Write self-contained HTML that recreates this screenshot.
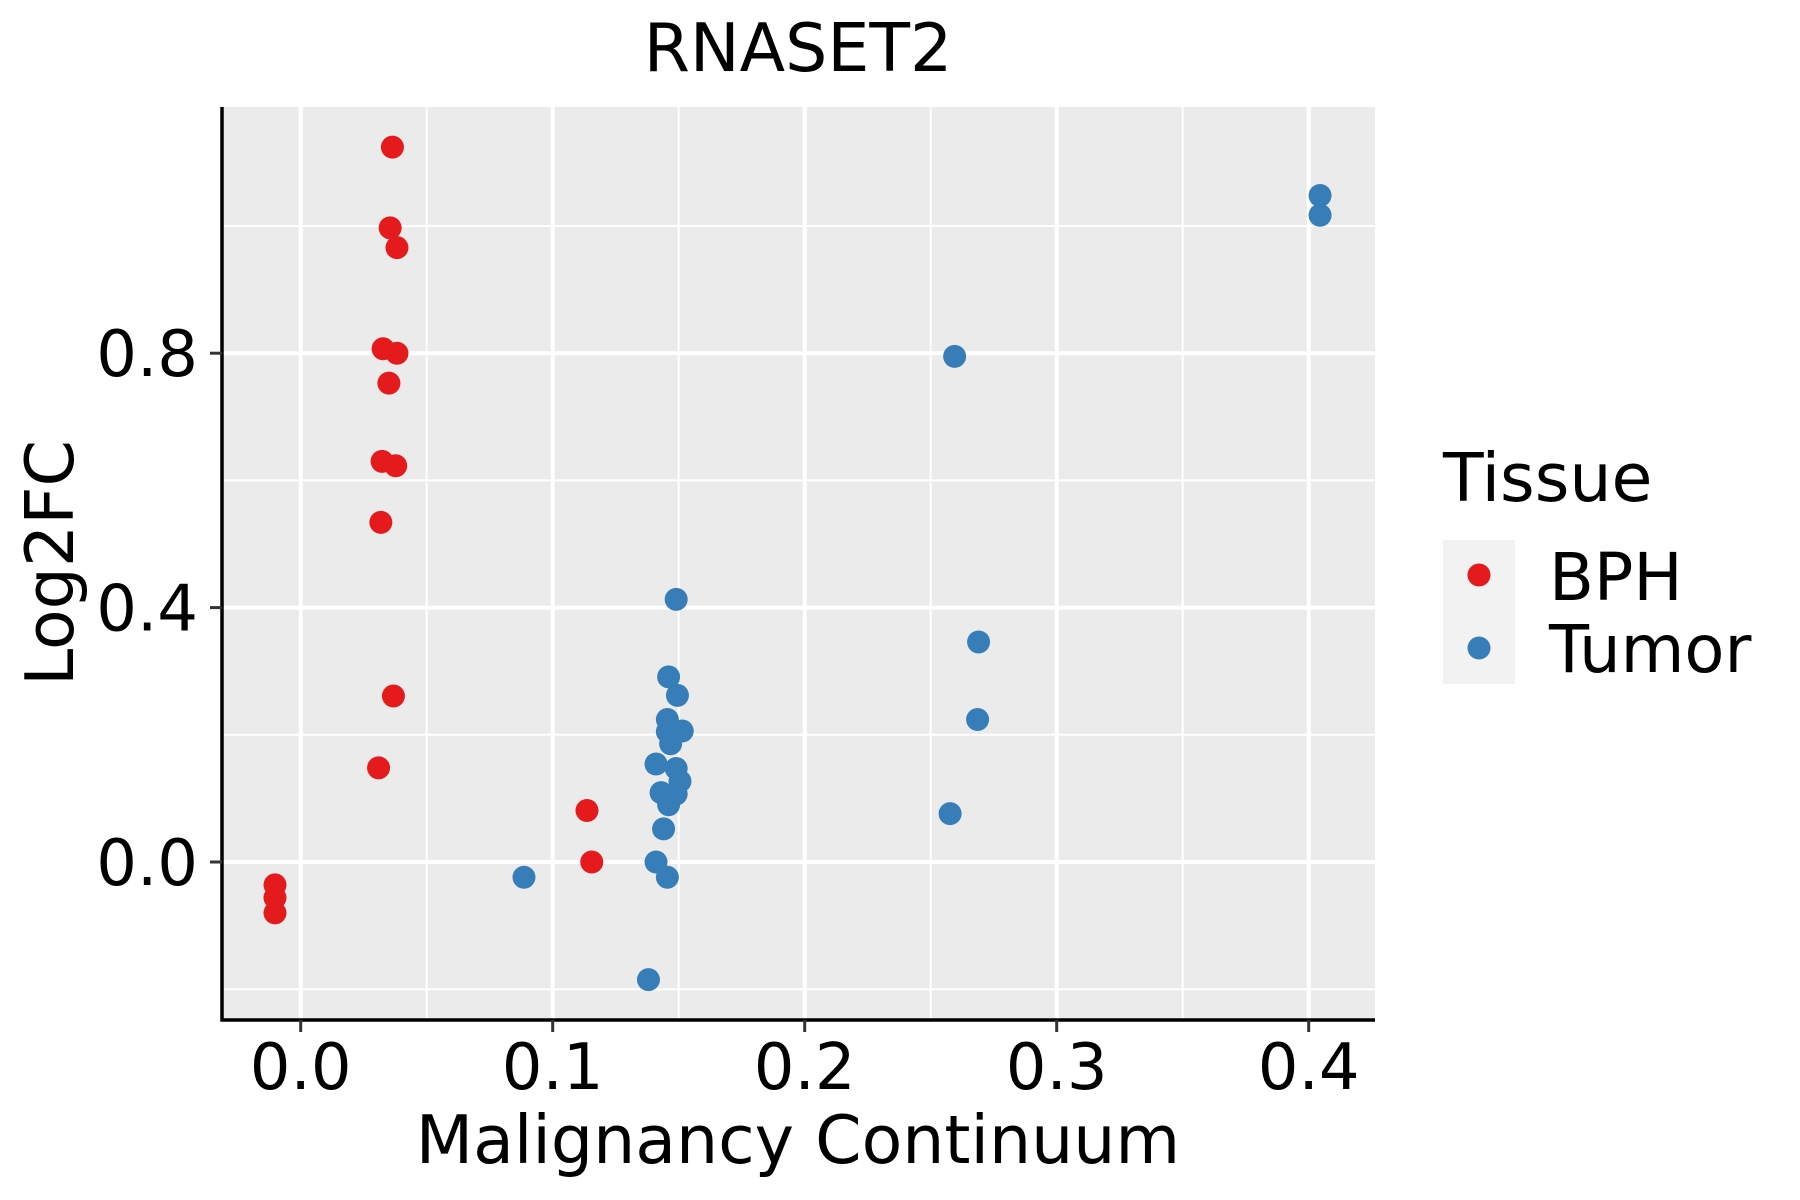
<!DOCTYPE html>
<html><head><meta charset="utf-8"><style>
html,body{margin:0;padding:0;background:#fff;}
svg{display:block;font-family:"DejaVu Sans","Liberation Sans",sans-serif;}
</style></head><body>
<svg id="chart" width="1800" height="1200" viewBox="0 0 1800 1200" xmlns="http://www.w3.org/2000/svg">
<rect x="222" y="107" width="1153" height="913" fill="#ebebeb"/>
<g id="grid"></g>
<g id="points"></g>
<line x1="222" y1="107" x2="222" y2="1021.5" stroke="#000" stroke-width="3.5"/>
<line x1="220.5" y1="1020" x2="1375" y2="1020" stroke="#000" stroke-width="3.5"/>
<g id="ticks"></g>
<text x="798" y="71" font-size="66.5" text-anchor="middle">RNASET2</text>
<text x="798" y="1163" font-size="66.5" text-anchor="middle">Malignancy Continuum</text>
<text x="0" y="0" font-size="66.5" text-anchor="middle" transform="translate(73,563) rotate(-90)">Log2FC</text>
<g>
<text x="1443" y="501" font-size="66.5">Tissue</text>
<rect x="1443" y="540" width="72" height="144" fill="#f2f2f2"/>
<circle cx="1479" cy="575" r="11.5" fill="#e41a1c"/>
<circle cx="1479" cy="648" r="11.5" fill="#377eb8"/>
<text x="1549" y="600" font-size="65.5">BPH</text>
<text x="1549" y="672" font-size="65.5">Tumor</text>
</g>
</svg>
<script>
const xTicks = [0.0, 0.1, 0.2, 0.3, 0.4];
const xTickLabels = ["0.0", "0.1", "0.2", "0.3", "0.4"];
const xMinor = [0.05, 0.15, 0.25, 0.35];
const yTicks = [0.0, 0.4, 0.8];
const yTickLabels = ["0.0", "0.4", "0.8"];
const yMinor = [-0.2, 0.2, 0.6, 1.0];
const bphX = [0.0364, 0.0355, 0.0382, 0.0327, 0.0382, 0.035, 0.0323, 0.0377, 0.0318, 0.0368, 0.0309, 0.1136, 0.1155, -0.0102, -0.0102, -0.0102];
const bphY = [1.124, 0.997, 0.966, 0.807, 0.800, 0.753, 0.630, 0.623, 0.534, 0.261, 0.148, 0.081, 0.0, -0.036, -0.056, -0.080];
const tumorX = [0.4045, 0.4045, 0.2595, 0.149, 0.269, 0.146, 0.1495, 0.2686, 0.1455, 0.1455, 0.1514, 0.1468, 0.141, 0.149, 0.1505, 0.143, 0.149, 0.146, 0.144, 0.2577, 0.141, 0.1455, 0.0886, 0.138];
const tumorY = [1.048, 1.017, 0.795, 0.413, 0.346, 0.291, 0.262, 0.224, 0.224, 0.205, 0.206, 0.186, 0.154, 0.147, 0.127, 0.109, 0.107, 0.090, 0.052, 0.076, 0.0, -0.024, -0.024, -0.185];

const NS = "http://www.w3.org/2000/svg";
function sx(v){ return 300.7 + v * 2520; }
function sy(v){ return 862 - v * 636; }
function mk(tag, attrs, parent){
  const e = document.createElementNS(NS, tag);
  for (const k in attrs) e.setAttribute(k, attrs[k]);
  parent.appendChild(e);
  return e;
}
const grid = document.getElementById('grid');
const ticks = document.getElementById('ticks');
const pts = document.getElementById('points');
xMinor.forEach(v => {
  const l = mk('line', {x1: sx(v), x2: sx(v), y1: 107, y2: 1020, stroke: '#fff', 'stroke-width': 2}, grid);
  
  
});
yMinor.forEach(v => {
  const l = mk('line', {x1: 222, x2: 1375, y1: sy(v), y2: sy(v), stroke: '#fff', 'stroke-width': 2}, grid);
  
  
});
xTicks.forEach((v, i) => {
  const l = mk('line', {x1: sx(v), x2: sx(v), y1: 107, y2: 1020, stroke: '#fff', 'stroke-width': 4}, grid);
  
  
  const t = mk('line', {x1: sx(v), x2: sx(v), y1: 1020, y2: 1032, stroke: '#333', 'stroke-width': 3}, ticks);
  
  
  const tx = mk('text', {x: sx(v), y: 1089, 'font-size': 64, 'text-anchor': 'middle'}, ticks);
  
  
  tx.textContent = xTickLabels[i];
});
yTicks.forEach((v, i) => {
  const l = mk('line', {x1: 222, x2: 1375, y1: sy(v), y2: sy(v), stroke: '#fff', 'stroke-width': 4}, grid);
  
  
  const t = mk('line', {x1: 210, x2: 222, y1: sy(v), y2: sy(v), stroke: '#333', 'stroke-width': 3}, ticks);
  
  
  const tx = mk('text', {x: 198, y: sy(v) + 23, 'font-size': 64, 'text-anchor': 'end'}, ticks);
  
  
  tx.textContent = yTickLabels[i];
});
bphX.forEach((v, i) => {
  const c = mk('circle', {cx: sx(v), cy: sy(bphY[i]), r: 11.5, fill: '#e41a1c'}, pts);
  
  
});
tumorX.forEach((v, i) => {
  const c = mk('circle', {cx: sx(v), cy: sy(tumorY[i]), r: 11.5, fill: '#377eb8'}, pts);
  
  
});
</script>
</body></html>
